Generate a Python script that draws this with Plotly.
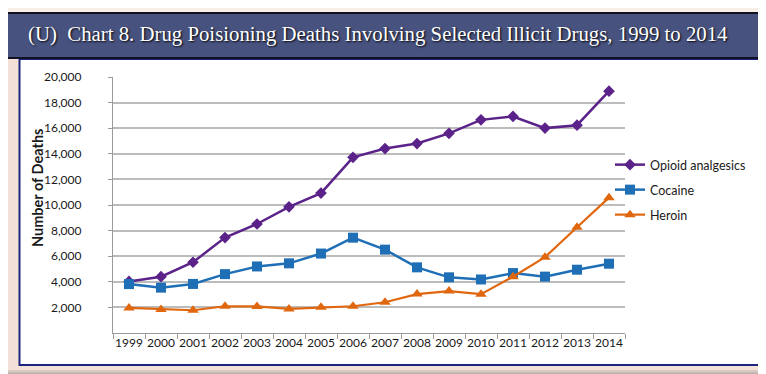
import plotly.graph_objects as go

# ---------------- data ----------------
years = [str(y) for y in range(1999, 2015)]
opioid = [4030, 4400, 5528, 7456, 8517, 9857, 10928, 13723,
          14408, 14800, 15597, 16651, 16917, 16007, 16235, 18893]
cocaine = [3822, 3544, 3833, 4599, 5199, 5443, 6208, 7448,
           6512, 5129, 4350, 4183, 4681, 4404, 4944, 5415]
heroin = [1960, 1842, 1779, 2089, 2080, 1878, 2009, 2088,
          2399, 3041, 3278, 3036, 4397, 5925, 8257, 10574]
series_names = ["Opioid analgesics", "Cocaine", "Heroin"]
y_tickvals = list(range(2000, 20001, 2000))
title_text = "(U)  Chart 8. Drug Poisioning Deaths Involving Selected Illicit Drugs, 1999 to 2014"
y_title = "Number of Deaths"

# ---------------- geometry ----------------
W, H = 766, 374
L, R, T, B = 105, 617, 69, 325  # plot area in px


def fx(p):
    return (p - L) / (R - L)


def fy(p):
    return (B - p) / (B - T)


fig = go.Figure()

styles = [
    dict(color="#5b2389", symbol="diamond", size=9, width=2.5, legend="legend", ly=157),
    dict(color="#1f6fb6", symbol="square", size=10, width=2.5, legend="legend2", ly=182),
    dict(color="#e0670e", symbol="triangle-up", size=10, width=2.2, legend="legend3", ly=207),
]
for name, vals, st in zip(series_names, [opioid, cocaine, heroin], styles):
    fig.add_trace(go.Scatter(
        x=years, y=vals, name=name, mode="lines+markers", legend=st["legend"],
        line=dict(color=st["color"], width=st["width"]),
        marker=dict(symbol=st["symbol"], size=st["size"], color=st["color"],
                    line=dict(width=0)),
    ))

shapes = []
shapes.append(dict(type="rect", xref="paper", yref="paper", x0=fx(0), x1=fx(W), y0=fy(0), y1=fy(4),
                   fillcolor="#f8efe6", line=dict(width=0), layer="below"))
shapes.append(dict(type="rect", xref="paper", yref="paper", x0=fx(0), x1=fx(W), y0=fy(4), y1=fy(51),
                   fillcolor="#111122", line=dict(width=0), layer="below"))
shapes.append(dict(type="rect", xref="paper", yref="paper", x0=fx(0), x1=fx(W), y0=fy(6), y1=fy(49),
                   fillcolor="#47527f", line=dict(width=0), layer="below"))
for i, c in enumerate(["#d9c9c2", "#b9aeab", "#9c9595", "#8a8585", "#8f8a8a"]):
    shapes.append(dict(type="rect", xref="paper", yref="paper", x0=fx(0), x1=fx(W),
                       y0=fy(362 + i * 2.5), y1=fy(374), fillcolor=c, line=dict(width=0), layer="below"))
shapes.append(dict(type="rect", xref="paper", yref="paper", x0=fx(760), x1=fx(W), y0=fy(51), y1=fy(374),
                   fillcolor="#c9bbb6", line=dict(width=0), layer="below"))
shapes.append(dict(type="rect", xref="paper", yref="paper", x0=fx(11.5), x1=fx(754), y0=fy(51), y1=fy(357),
                   fillcolor="white", line=dict(color="#1c2680", width=2), layer="below"))
shapes.append(dict(type="line", xref="paper", yref="paper", x0=fx(11), x1=fx(755), y0=fy(50), y1=fy(50),
                   line=dict(color="#111122", width=2), layer="below"))

legend_common = dict(xanchor="left", yanchor="middle", font=dict(size=12.5, color="#1a1a1a"),
                     bgcolor="rgba(0,0,0,0)", itemwidth=30)

fig.update_layout(
    width=W, height=H,
    margin=dict(l=L, r=W - R, t=T, b=H - B, pad=0),
    paper_bgcolor="#f3e1d8",
    plot_bgcolor="rgba(0,0,0,0)",
    font=dict(family="Lato, Liberation Sans, sans-serif", size=12, color="#1a1a1a"),
    shapes=shapes,
    showlegend=True,
    legend=dict(x=fx(602), y=fy(styles[0]["ly"]), **legend_common),
    legend2=dict(x=fx(602), y=fy(styles[1]["ly"]), **legend_common),
    legend3=dict(x=fx(602), y=fy(styles[2]["ly"]), **legend_common),
    annotations=[
        dict(text=title_text, xref="paper", yref="paper", x=fx(370), y=fy(26),
             xanchor="center", yanchor="middle", showarrow=False,
             font=dict(family="Liberation Serif, serif", size=20.8, color="white",
                       shadow="1px 1px 2px #000000")),
        dict(text="<b>" + y_title + "</b>", xref="paper", yref="paper", x=fx(29), y=fy(180),
             xanchor="center", yanchor="middle", showarrow=False, textangle=-90,
             font=dict(size=14.5, color="#1a1a1a")),
    ],
)

fig.update_xaxes(
    type="category", range=[-0.5, 15.5], showgrid=False,
    showline=True, linecolor="#9a9a9a", linewidth=1.2,
    ticks="outside", tickson="boundaries", ticklen=5, tickcolor="#9a9a9a",
    tickangle=0, tickfont=dict(size=12, color="#1a1a1a"), ticklabelstandoff=-2,
)
fig.update_yaxes(
    range=[0, 20000], tickvals=y_tickvals, tickformat=",",
    showgrid=True, gridcolor="#bcbcbc", gridwidth=1.5,
    showline=True, linecolor="#9a9a9a", linewidth=1.2,
    ticks="outside", ticklen=4, tickcolor="#9a9a9a",
    tickfont=dict(size=12, color="#1a1a1a"), ticklabelstandoff=24,
    zeroline=False,
)

fig.write_html("out.html")
